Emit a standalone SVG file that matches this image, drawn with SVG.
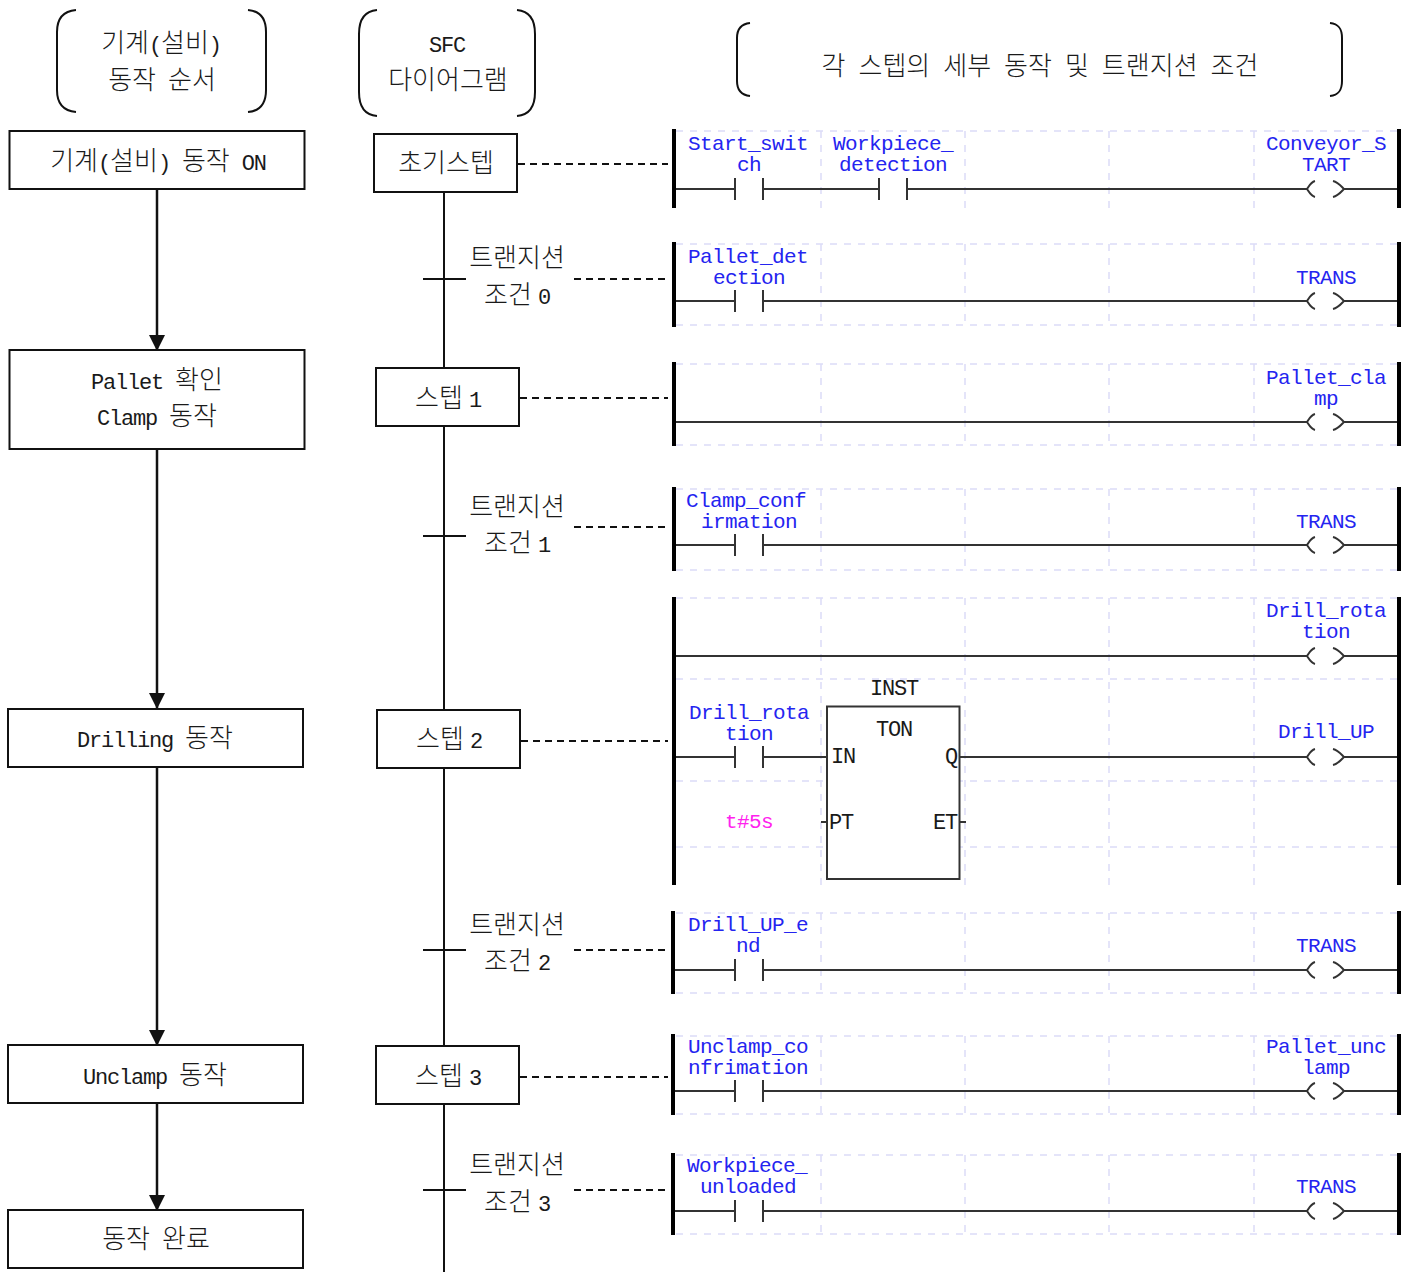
<svg xmlns="http://www.w3.org/2000/svg" width="1413" height="1272" viewBox="0 0 1413 1272">
<style>
text{font-family:"Liberation Mono","Noto Sans CJK KR",monospace;text-anchor:middle;fill:#1a1a1a;font-size:26px;font-weight:300}
tspan.l,text.l{font-size:22px;letter-spacing:-1.2px}
text.b{fill:#2424f0;font-size:21px;letter-spacing:-.6px}
text.m{fill:#ff22ee;font-size:21px;letter-spacing:-.6px}
text.s{text-anchor:start}
.box{fill:#fff;stroke:#111;stroke-width:2}
.w{fill:none;stroke:#111;stroke-width:2}
.a{fill:none;stroke:#111;stroke-width:2.500}
.dash{fill:none;stroke:#111;stroke-width:2;stroke-dasharray:7 5}
.rail{fill:none;stroke:#000;stroke-width:4}
.rung{fill:none;stroke:#333;stroke-width:2}
.grid{fill:none;stroke:#dcdcf8;stroke-width:1.5;stroke-dasharray:7 7}
.br{fill:none;stroke:#111;stroke-width:2}
</style>
<defs>
<marker id="arr" markerUnits="userSpaceOnUse" markerWidth="16" markerHeight="18" refX="15" refY="8" orient="auto"><path d="M0,0L16,8L0,16Z" fill="#111"/></marker>
<path id="coil" d="M-10,-8C-14,-7 -16,-3 -18,0C-16,3 -14,7 -10,8M8,-8C13,-7 16,-3 19,0C16,3 13,7 8,8" fill="none" stroke="#333" stroke-width="2"/>
<path id="contact" d="M0,-11V11M28,-11V11" fill="none" stroke="#333" stroke-width="2"/>
</defs>

<g id="grid">
<path class="grid" d="M676,131H1397M821,131V208M965,131V208M1109,131V208M1254,131V208"/>
<path class="grid" d="M676,244H1397M676,325H1397M821,244V325M965,244V325M1109,244V325M1254,244V325"/>
<path class="grid" d="M676,364H1397M676,445H1397M821,364V445M965,364V445M1109,364V445M1254,364V445"/>
<path class="grid" d="M676,489H1397M676,570H1397M821,489V570M965,489V570M1109,489V570M1254,489V570"/>
<path class="grid" d="M676,598H1397M676,679H1397M676,781H1397M676,847H1397M821,598V885M965,598V885M1109,598V885M1254,598V885"/>
<path class="grid" d="M676,913H1397M676,993H1397M821,913V993M965,913V993M1109,913V993M1254,913V993"/>
<path class="grid" d="M676,1036H1397M676,1114H1397M821,1036V1114M965,1036V1114M1109,1036V1114M1254,1036V1114"/>
<path class="grid" d="M676,1155H1397M676,1234H1397M821,1155V1234M965,1155V1234M1109,1155V1234M1254,1155V1234"/>
</g>

<g id="connectors">
<path class="a" d="M157,189V350" marker-end="url(#arr)"/>
<path class="a" d="M157,449V708" marker-end="url(#arr)"/>
<path class="a" d="M157,767V1045" marker-end="url(#arr)"/>
<path class="a" d="M157,1103V1210" marker-end="url(#arr)"/>
<path class="w" d="M444,192V1272"/>
<path class="w" d="M423,279H466M423,536H466M423,950H466M423,1190H466"/>
<path class="dash" d="M518,164H668M520,398H668M521,741H668M520,1077H668"/>
<path class="dash" d="M574,279H668M574,527H668M574,950H668M574,1190H668"/>
</g>

<g id="header-1"><path class="br" d="M76,10C64,11 57,18 57,32V90C57,104 64,111 76,112M248,10C260,11 266,18 266,32V90C266,104 260,111 248,112"/>
<text x="161" y="52"><tspan>기계</tspan><tspan class="l">(</tspan><tspan>설비</tspan><tspan class="l">)</tspan></text>
<text x="162" y="89"><tspan>동작</tspan><tspan class="l"> </tspan><tspan>순서</tspan></text></g>
<g id="header-2"><path class="br" d="M377,10C365,11 359,19 359,34V92C359,107 365,115 377,116M517,10C529,11 535,19 535,34V92C535,107 529,115 517,116"/>
<text class="l" x="447" y="52">SFC</text>
<text x="448" y="89">다이어그램</text></g>
<g id="header-3"><path class="br" d="M750,23C741,24 737,29 737,38V81C737,90 741,95 750,96M1330,23C1339,24 1342,29 1342,38V81C1342,90 1339,95 1330,96"/>
<text x="1040" y="75" word-spacing="-2.6">각 스텝의 세부 동작 및 트랜지션 조건</text></g>

<g id="m1"><rect class="box" x="9.5" y="131" width="295" height="58"/><text x="158" y="170"><tspan>기계</tspan><tspan class="l">(</tspan><tspan>설비</tspan><tspan class="l">) </tspan><tspan>동작</tspan><tspan class="l"> ON</tspan></text></g>
<g id="m2"><rect class="box" x="9.5" y="350" width="295" height="99"/><text x="157" y="389"><tspan class="l">Pallet </tspan><tspan>확인</tspan></text><text x="157" y="425"><tspan class="l">Clamp </tspan><tspan>동작</tspan></text></g>
<g id="m3"><rect class="box" x="8" y="709" width="295" height="58"/><text x="155" y="747"><tspan class="l">Drilling </tspan><tspan>동작</tspan></text></g>
<g id="m4"><rect class="box" x="8" y="1045" width="295" height="58"/><text x="155" y="1084"><tspan class="l">Unclamp </tspan><tspan>동작</tspan></text></g>
<g id="m5"><rect class="box" x="8" y="1210" width="295" height="58"/><text x="156" y="1248"><tspan>동작</tspan><tspan class="l"> </tspan><tspan>완료</tspan></text></g>

<g id="s0"><rect class="box" x="374" y="134" width="143" height="58"/><text x="446" y="172">초기스텝</text></g>
<g id="s1"><rect class="box" x="376" y="368" width="143" height="58"/><text x="448" y="407"><tspan>스텝</tspan><tspan class="l" dx="6">1</tspan></text></g>
<g id="s2"><rect class="box" x="377" y="710" width="143" height="58"/><text x="449" y="748"><tspan>스텝</tspan><tspan class="l" dx="6">2</tspan></text></g>
<g id="s3"><rect class="box" x="376" y="1046" width="143" height="58"/><text x="448" y="1085"><tspan>스텝</tspan><tspan class="l" dx="6">3</tspan></text></g>

<g id="t0"><text x="517" y="267">트랜지션</text><text x="517" y="304"><tspan>조건</tspan><tspan class="l" dx="6">0</tspan></text></g>
<g id="t1"><text x="517" y="516">트랜지션</text><text x="517" y="552"><tspan>조건</tspan><tspan class="l" dx="6">1</tspan></text></g>
<g id="t2"><text x="517" y="934">트랜지션</text><text x="517" y="970"><tspan>조건</tspan><tspan class="l" dx="6">2</tspan></text></g>
<g id="t3"><text x="517" y="1174">트랜지션</text><text x="517" y="1211"><tspan>조건</tspan><tspan class="l" dx="6">3</tspan></text></g>

<g id="rung-0">
<path class="rail" d="M674,129V208M1399,129V208"/>
<path class="rung" d="M676,189H735M763,189H879M907,189H1307M1344,189H1397"/>
<use href="#contact" x="735" y="189"/><use href="#contact" x="879" y="189"/><use href="#coil" x="1325" y="189"/>
<text class="b" x="748" y="150">Start_swit</text><text class="b" x="749" y="171">ch</text>
<text class="b" x="893" y="150">Workpiece_</text><text class="b" x="893" y="171">detection</text>
<text class="b" x="1326" y="150">Conveyor_S</text><text class="b" x="1326" y="171">TART</text>
</g>
<g id="rung-1">
<path class="rail" d="M674,242V327M1399,242V327"/>
<path class="rung" d="M676,301H735M763,301H1307M1344,301H1397"/>
<use href="#contact" x="735" y="301"/><use href="#coil" x="1325" y="301"/>
<text class="b" x="748" y="263">Pallet_det</text><text class="b" x="749" y="284">ection</text>
<text class="b" x="1326" y="284">TRANS</text>
</g>
<g id="rung-2">
<path class="rail" d="M674,362V446M1399,362V446"/>
<path class="rung" d="M676,422H1307M1344,422H1397"/>
<use href="#coil" x="1325" y="422"/>
<text class="b" x="1326" y="384">Pallet_cla</text><text class="b" x="1326" y="405">mp</text>
</g>
<g id="rung-3">
<path class="rail" d="M674,487V571M1399,487V571"/>
<path class="rung" d="M676,545H735M763,545H1307M1344,545H1397"/>
<use href="#contact" x="735" y="545"/><use href="#coil" x="1325" y="545"/>
<text class="b" x="746" y="507">Clamp_conf</text><text class="b" x="749" y="528">irmation</text>
<text class="b" x="1326" y="528">TRANS</text>
</g>
<g id="rung-4">
<path class="rail" d="M674,597V885M1399,597V885"/>
<path class="rung" d="M676,656H1307M1344,656H1397"/>
<use href="#coil" x="1325" y="656"/>
<text class="b" x="1326" y="617">Drill_rota</text><text class="b" x="1326" y="638">tion</text>
<path class="rung" d="M676,757H735M763,757H827M960,757H1307M1344,757H1397M821,822H827M960,822H966"/>
<use href="#contact" x="735" y="757"/><use href="#coil" x="1325" y="757"/>
<rect x="827" y="706.500" width="132.500" height="172.500" fill="#fff" stroke="#333" stroke-width="2"/>
<text class="b" x="749" y="719">Drill_rota</text><text class="b" x="749" y="740">tion</text>
<text class="b" x="1326" y="738">Drill_UP</text>
<text class="l" x="894" y="695">INST</text><text class="l" x="894" y="736">TON</text>
<text class="l s" x="831" y="763">IN</text><text class="l s" x="945" y="763">Q</text>
<text class="l s" x="829" y="829">PT</text><text class="l s" x="933" y="829">ET</text>
<text class="m" x="749" y="828">t#5s</text>
</g>
<g id="rung-5">
<path class="rail" d="M673,911V994M1399,911V994"/>
<path class="rung" d="M675,970H735M763,970H1307M1344,970H1397"/>
<use href="#contact" x="735" y="970"/><use href="#coil" x="1325" y="970"/>
<text class="b" x="748" y="931">Drill_UP_e</text><text class="b" x="748" y="952">nd</text>
<text class="b" x="1326" y="952">TRANS</text>
</g>
<g id="rung-6">
<path class="rail" d="M673,1034V1115M1399,1034V1115"/>
<path class="rung" d="M675,1091H735M763,1091H1307M1344,1091H1397"/>
<use href="#contact" x="735" y="1091"/><use href="#coil" x="1325" y="1091"/>
<text class="b" x="748" y="1053">Unclamp_co</text><text class="b" x="748" y="1074">nfrimation</text>
<text class="b" x="1326" y="1053">Pallet_unc</text><text class="b" x="1326" y="1074">lamp</text>
</g>
<g id="rung-7">
<path class="rail" d="M673,1153V1235M1399,1153V1235"/>
<path class="rung" d="M675,1211H735M763,1211H1307M1344,1211H1397"/>
<use href="#contact" x="735" y="1211"/><use href="#coil" x="1325" y="1211"/>
<text class="b" x="747" y="1172">Workpiece_</text><text class="b" x="748" y="1193">unloaded</text>
<text class="b" x="1326" y="1193">TRANS</text>
</g>
</svg>
